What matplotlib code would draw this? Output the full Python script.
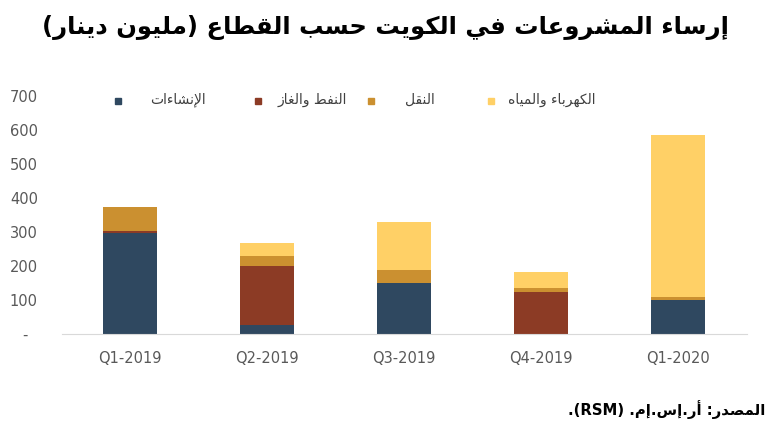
import matplotlib
matplotlib.use("Agg")
import matplotlib.pyplot as plt
from matplotlib.patches import Rectangle
import numpy as np

# ---- data ----
quarters = ["Q1-2019", "Q2-2019", "Q3-2019", "Q4-2019", "Q1-2020"]
construction = [298, 27, 151, 0, 99]
oil_gas = [4, 172, 0, 124, 0]
transport = [73, 29, 38, 10, 10]
power_water = [0, 40, 141, 47, 476]
yticks = [0, 100, 200, 300, 400, 500, 600, 700]
ytick_labels = ["-  ", "100", "200", "300", "400", "500", "600", "700"]

series_names = ["الإنشاءات", "النفط والغاز", "النقل", "الكهرباء والمياه"]
colors = ["#2F4860", "#8C3B25", "#CB9030", "#FFD066"]

title = "إرساء المشروعات في الكويت حسب القطاع (مليون دينار)"
source_ar = "المصدر: أر.إس.إم."

# ---- minimal arabic shaping (no reshaper lib available) ----
# letter: (isolated, number of forms) 4 = dual joining, 2 = right joining, 1 = none
FORMS = {
    0x0621: (0xFE80, 1), 0x0622: (0xFE81, 2), 0x0623: (0xFE83, 2), 0x0624: (0xFE85, 2),
    0x0625: (0xFE87, 2), 0x0626: (0xFE89, 4), 0x0627: (0xFE8D, 2), 0x0628: (0xFE8F, 4),
    0x0629: (0xFE93, 2), 0x062A: (0xFE95, 4), 0x062B: (0xFE99, 4), 0x062C: (0xFE9D, 4),
    0x062D: (0xFEA1, 4), 0x062E: (0xFEA5, 4), 0x062F: (0xFEA9, 2), 0x0630: (0xFEAB, 2),
    0x0631: (0xFEAD, 2), 0x0632: (0xFEAF, 2), 0x0633: (0xFEB1, 4), 0x0634: (0xFEB5, 4),
    0x0635: (0xFEB9, 4), 0x0636: (0xFEBD, 4), 0x0637: (0xFEC1, 4), 0x0638: (0xFEC5, 4),
    0x0639: (0xFEC9, 4), 0x063A: (0xFECD, 4), 0x0641: (0xFED1, 4), 0x0642: (0xFED5, 4),
    0x0643: (0xFED9, 4), 0x0644: (0xFEDD, 4), 0x0645: (0xFEE1, 4), 0x0646: (0xFEE5, 4),
    0x0647: (0xFEE9, 4), 0x0648: (0xFEED, 2), 0x0649: (0xFEEF, 2), 0x064A: (0xFEF1, 4),
}
LAM_ALEF = {0x0622: 0xFEF5, 0x0623: 0xFEF7, 0x0625: 0xFEF9, 0x0627: 0xFEFB}


def shape(text):
    # merge lam + alef first
    chars = []
    i = 0
    while i < len(text):
        c = ord(text[i])
        if c == 0x0644 and i + 1 < len(text) and ord(text[i + 1]) in LAM_ALEF:
            chars.append(("LA", LAM_ALEF[ord(text[i + 1])]))
            i += 2
        else:
            chars.append(("C", c))
            i += 1

    def kind(item):
        t, c = item
        if t == "LA":
            return 2
        return FORMS[c][1] if c in FORMS else 0

    out = []
    for k, item in enumerate(chars):
        t, c = item
        n = kind(item)
        if n == 0:
            out.append(chr(c))
            continue
        prev_join = k > 0 and kind(chars[k - 1]) == 4
        next_join = n == 4 and k + 1 < len(chars) and kind(chars[k + 1]) > 0
        base = c if t == "LA" else FORMS[c][0]
        if n == 1:
            out.append(chr(base))
        elif prev_join and next_join:
            out.append(chr(base + 3))
        elif next_join:
            out.append(chr(base + 2))
        elif prev_join:
            out.append(chr(base + 1))
        else:
            out.append(chr(base))
    return "".join(out)


def rtl(text):
    s = shape(text)[::-1]
    return s.translate(str.maketrans("()", ")("))


plt.rcParams["font.family"] = ["DejaVu Sans"]

fig = plt.figure(figsize=(7.7, 4.25), dpi=100)
ax = fig.add_axes([0.0799, 0.2141, 0.8896, 0.56])

x = np.arange(len(quarters))
bottom = np.zeros(len(quarters))
for vals, col in zip([construction, oil_gas, transport, power_water], colors):
    ax.bar(x, vals, width=0.4, bottom=bottom, color=col)
    bottom += np.array(vals)

ax.set_xlim(-0.5, len(quarters) - 0.5)
ax.set_ylim(0, 700)
ax.set_yticks(yticks)
ax.set_yticklabels(ytick_labels)
ax.set_xticks(x)
ax.set_xticklabels(quarters)
ax.tick_params(axis="both", length=0, labelsize=10.5, labelcolor="#595959")
ax.tick_params(axis="y", pad=17)
ax.tick_params(axis="x", pad=12)
for s in ["top", "right", "left"]:
    ax.spines[s].set_visible(False)
ax.spines["bottom"].set_color("#D9D9D9")

# legend, laid out by hand like the original
marker_x = [115, 255, 368, 488]
text_x = [150, 278, 405, 508]
for name, col, mx, tx in zip(series_names, colors, marker_x, text_x):
    fig.patches.append(Rectangle((mx / 770, 1 - 104 / 425), 6 / 770, 6 / 425,
                                 transform=fig.transFigure, figure=fig,
                                 color=col))
    fig.text(tx / 770, 1 - 100 / 425, rtl(name), fontsize=10, color="#404040",
             ha="left", va="center")

fig.text(0.5, 1 - 27 / 425, rtl(title), fontsize=17.5, fontweight="bold",
         ha="center", va="center")
fig.text(765 / 770, 1 - 410 / 425, ".(RSM) " + rtl(source_ar), fontsize=10.7,
         fontweight="bold", ha="right", va="center")

fig.savefig("out.png", dpi=100)
